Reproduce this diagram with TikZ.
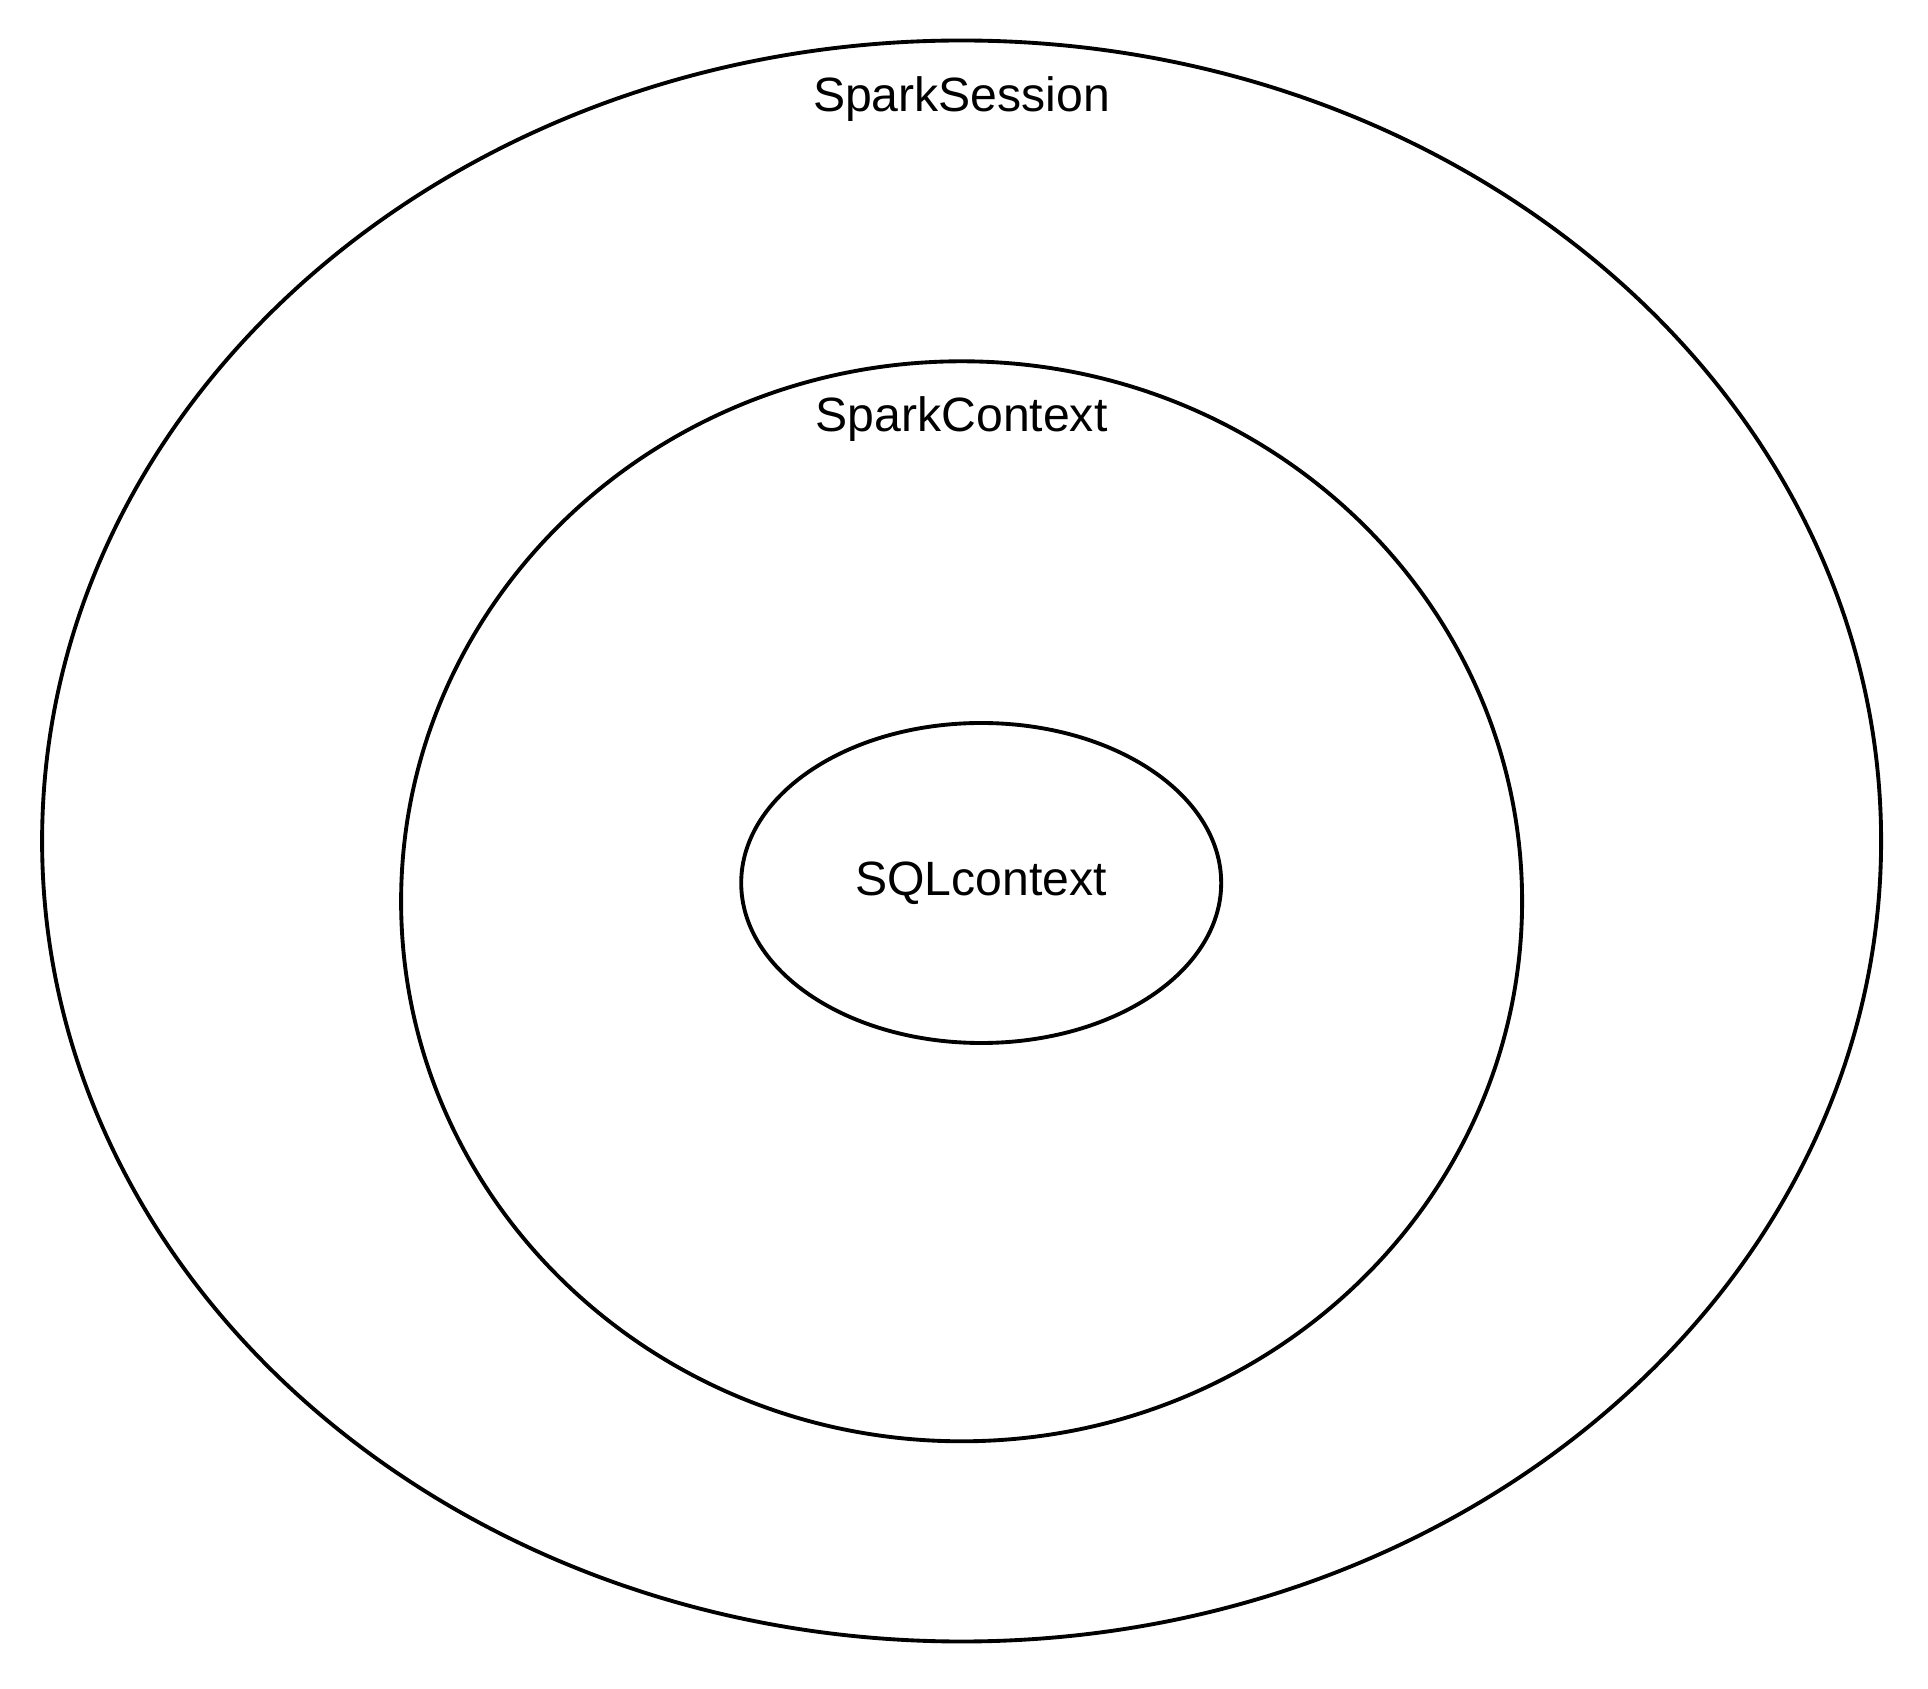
\documentclass[tikz,border=0pt]{standalone}
\usepackage{fontspec}
\setmainfont{Liberation Sans}
\usetikzlibrary{positioning,calc,shapes.geometric}

\tikzset{
	ring/.style={ellipse,draw,line width=1.1pt,inner sep=0pt},
	lbl/.style={font=\fontsize{13.7}{16}\selectfont,inner sep=0pt,anchor=base}
}

\begin{document}
\begin{tikzpicture}
\useasboundingbox (0,0) rectangle (19.28,16.88);
% three nested contexts
\node [ring,minimum width=183.9mm,minimum height=160.1mm] (session) at (9.616,8.47) {};
\node [ring,minimum width=112.1mm,minimum height=108.0mm] (context) at (9.616,7.867) {};
\node [ring,minimum width=48.0mm,minimum height=32.0mm,font=\fontsize{13.7}{16}\selectfont] (sql) at (9.812,8.05) {SQLcontext};
% titles under the top edge
\node [lbl] (sessionlbl) at ([yshift=-7.3mm]session.north) {SparkSession};
\node [lbl] (contextlbl) at ([yshift=-7.2mm]context.north) {SparkContext};
\end{tikzpicture}
\end{document}
